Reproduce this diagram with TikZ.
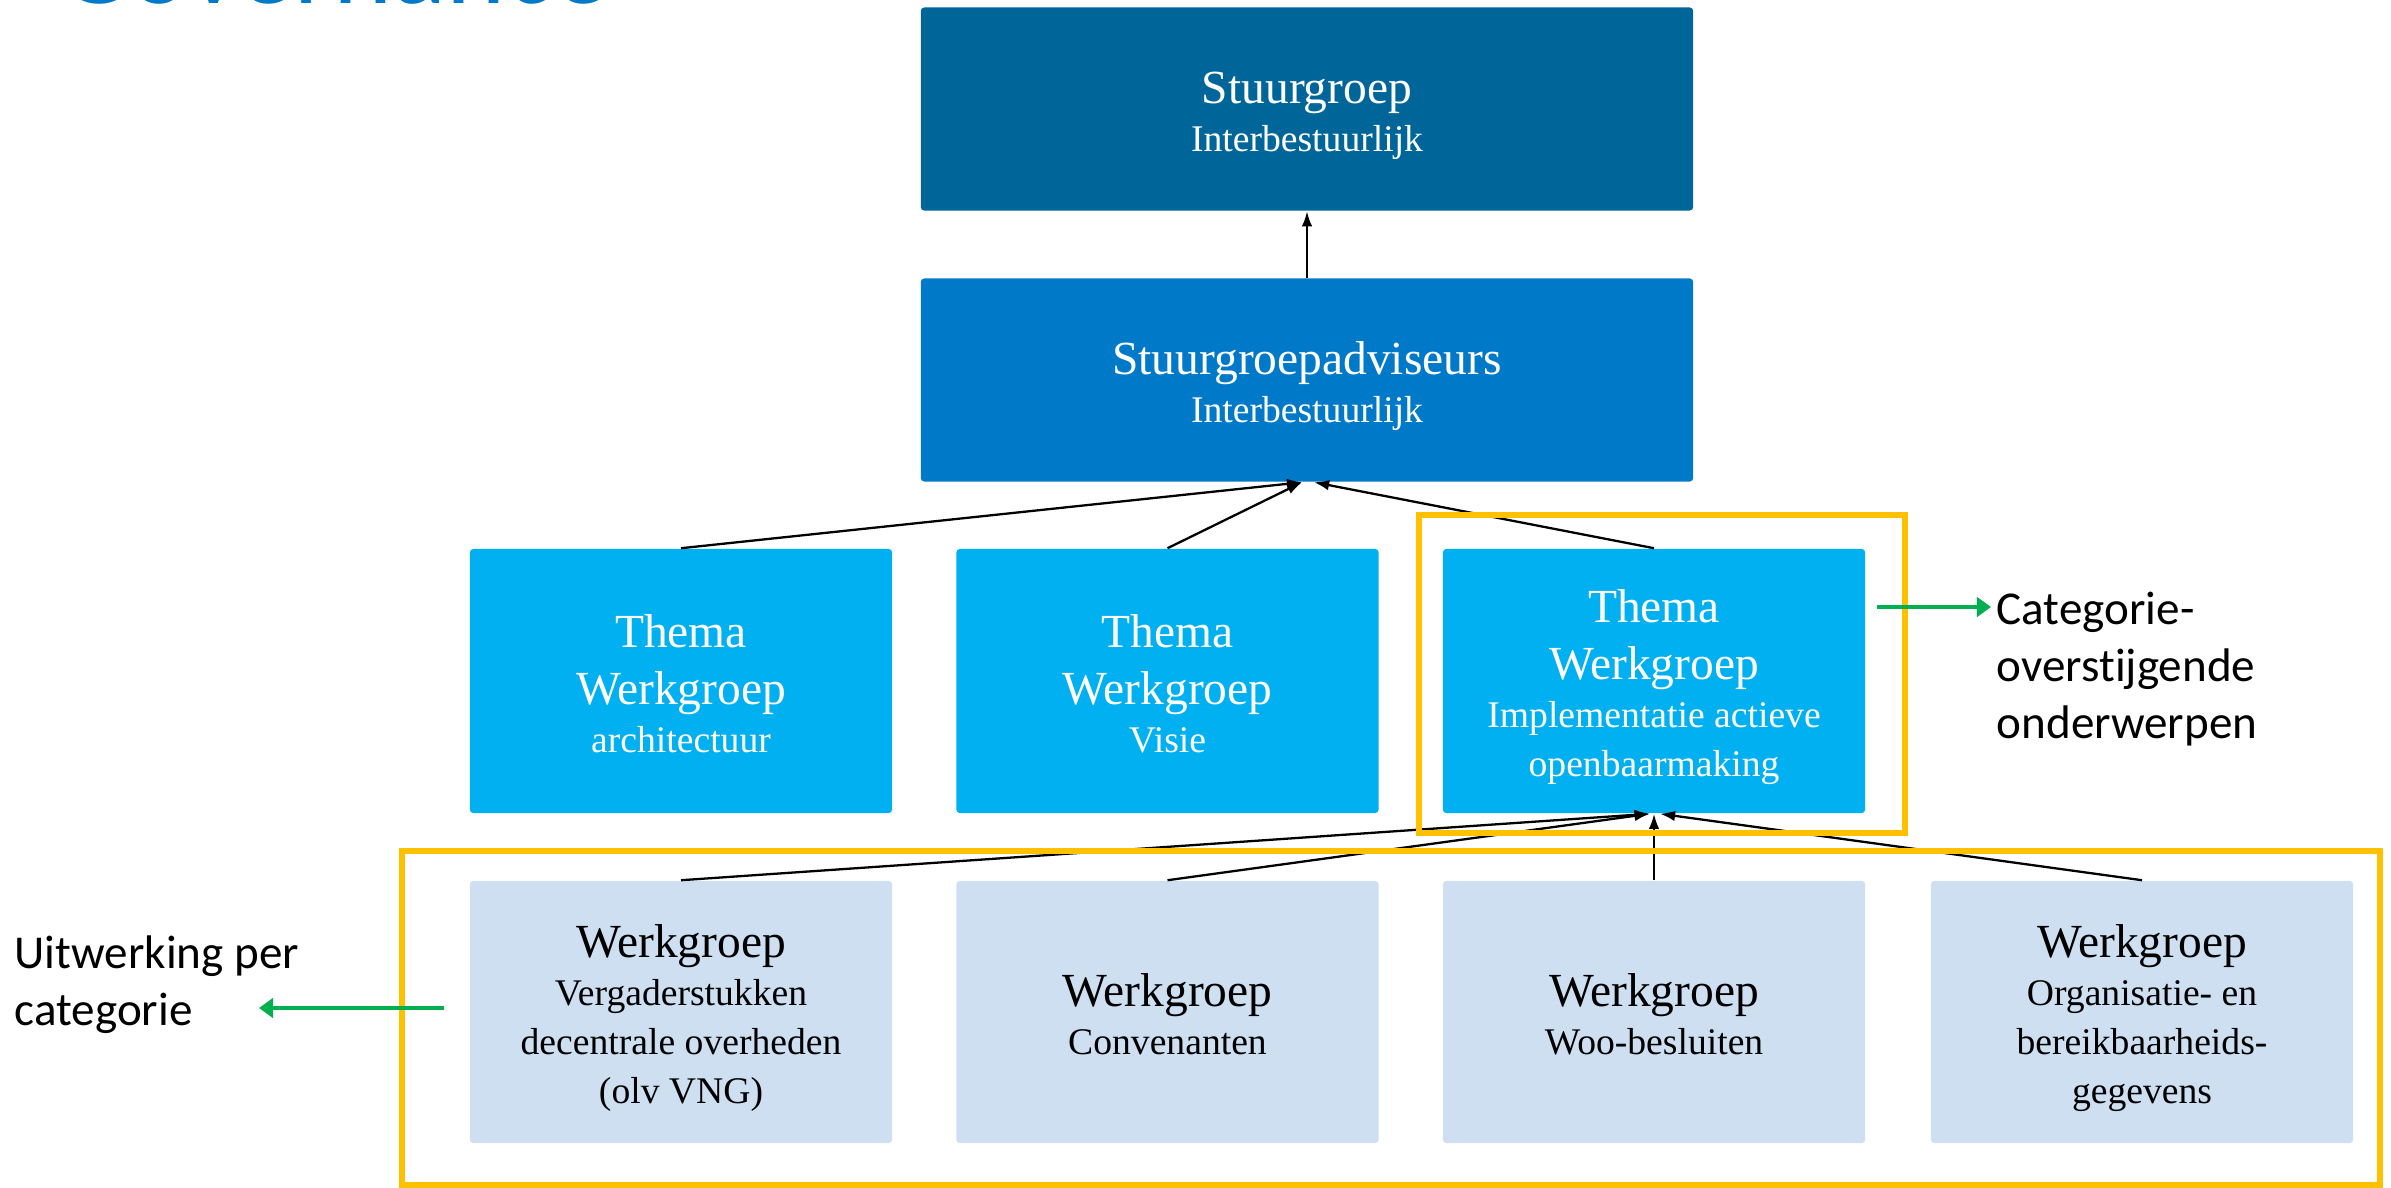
\documentclass[tikz,border=0pt]{standalone}
\usepackage{fontspec}
\setmainfont{Liberation Serif}
\newfontfamily\calibri[Ligatures=NoCommon]{Carlito}
\usepackage{xcolor}
\usetikzlibrary{arrows.meta}

\definecolor{stuurblauw}{RGB}{0,102,153}
\definecolor{adviesblauw}{RGB}{0,121,200}
\definecolor{themablauw}{RGB}{0,176,240}
\definecolor{werkblauw}{RGB}{205,223,240}
\definecolor{kadergeel}{RGB}{255,192,0}
\definecolor{pijlgroen}{RGB}{0,176,80}

% first line large, with a fixed top; last line with a fixed bottom
\newcommand{\groot}[1]{{\fontsize{13.5}{16}\selectfont #1}}
\newcommand{\kop}[1]{\groot{\rule{0pt}{13.1pt}#1}}
\newcommand{\voet}{\rule[-2.4pt]{0pt}{2.4pt}}

\tikzset{
  blok/.style={rectangle, rounded corners=1pt, inner sep=0pt, align=center,
    font=\fontsize{10.7}{14}\selectfont},
  breed/.style={blok, minimum width=7.72cm, minimum height=2.03cm, text=white},
  thema/.style={blok, minimum width=4.22cm, minimum height=2.64cm, fill=themablauw, text=white},
  werk/.style={blok, minimum width=4.22cm, minimum height=2.62cm, fill=werkblauw, text=black},
  lijn/.style={line width=0.65pt, -{Latex[length=4.3pt,width=3pt]}},
  kader/.style={draw=kadergeel, line width=1.45pt},
  groenpijl/.style={draw=pijlgroen, line width=1.4pt, -{Triangle[length=4pt,width=5.5pt]}},
  uitleg/.style={align=left, inner sep=0pt, font=\calibri\fontsize{13.4}{16.2}\selectfont},
}

\begin{document}
\begin{tikzpicture}[x=0.01cm, y=-0.01cm]
  \useasboundingbox (0,0) rectangle (2391,1188);

  % title, cut off at the top edge
  \begin{scope}
    \clip (0,0) rectangle (2391,1188);
    \node[anchor=base west, inner sep=0pt, text=adviesblauw,
      font=\calibri\fontsize{32}{38}\selectfont] (titel) at (58,4) {Governance};
  \end{scope}

  % top of the structure
  \node[breed, fill=stuurblauw] (sg) at (1307,109) {\kop{Stuurgroep}\\[-0.4pt]Interbestuurlijk\voet};
  \node[breed, fill=adviesblauw] (sa) at (1307,380) {\kop{Stuurgroepadviseurs}\\[-0.4pt]Interbestuurlijk\voet};

  % thema werkgroepen
  \node[thema] (t1) at (681,681) {\kop{Thema}\\[2.2pt]\groot{Werkgroep}\\[-0.4pt]architectuur\voet};
  \node[thema] (t2) at (1167.5,681) {\kop{Thema}\\[2.2pt]\groot{Werkgroep}\\[-0.4pt]Visie\voet};
  \node[thema] (t3) at (1654,681) {\kop{Thema}\\[2.2pt]\groot{Werkgroep}\\[-0.4pt]Implementatie actieve\\openbaarmaking\voet};

  % werkgroepen per categorie
  \node[werk] (w1) at (681,1012) {\kop{Werkgroep}\\[-0.4pt]Vergaderstukken\\decentrale overheden\\(olv VNG)\voet};
  \node[werk] (w2) at (1167.5,1012) {\kop{Werkgroep}\\[-0.4pt]Convenanten\voet};
  \node[werk] (w3) at (1654,1012) {\kop{Werkgroep}\\[-0.4pt]Woo-besluiten\voet};
  \node[werk] (w4) at (2142,1012) {\kop{Werkgroep}\\[-0.4pt]Organisatie- en\\bereikbaarheids-\\gegevens\voet};

  % connectors
  \draw[lijn] (sa.north) -- (sg.south);
  \draw[lijn] (t1.north) -- ([xshift=-1.4pt]sa.south);
  \draw[lijn] (t2.north) -- ([xshift=-1.4pt]sa.south);
  \draw[lijn] (t3.north) -- ([xshift=2pt]sa.south);
  \draw[lijn] (w1.north) -- ([xshift=-1.2pt]t3.south);
  \draw[lijn] (w2.north) -- ([xshift=-1.2pt]t3.south);
  \draw[lijn] (w3.north) -- (t3.south);
  \draw[lijn] (w4.north) -- ([xshift=1.7pt]t3.south);

  % yellow frames
  \draw[kader] (1419,515) rectangle (1905,833);
  \draw[kader] (402,851) rectangle (2380,1185);

  % side notes
  \node[uitleg, anchor=west] (cat) at (1996,669.5) {Categorie-\\overstijgende\\onderwerpen};
  \node[uitleg, anchor=west] (uitw) at (14,984.5) {Uitwerking per\\categorie};
  \coordinate (catvan) at (1877,607);
  \coordinate (catnaar) at (1991,607);
  \coordinate (uitwvan) at (444,1008);
  \coordinate (uitwnaar) at (259,1008);
  \draw[groenpijl] (catvan) -- (catnaar);
  \draw[groenpijl] (uitwvan) -- (uitwnaar);
\end{tikzpicture}
\end{document}
